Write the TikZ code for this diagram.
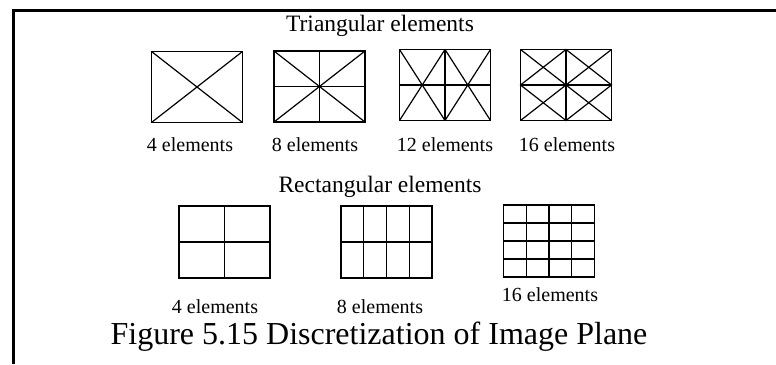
\documentclass[tikz,border=0pt]{standalone}
\usepackage{fontspec}
\setmainfont{Liberation Serif}
\usetikzlibrary{calc}
\tikzset{
    meshbox/.style={draw, rectangle, line width=1.8pt, outer sep=0pt, inner sep=0pt, minimum width=91pt, minimum height=71pt},
    meshline/.style={line width=1.2pt},
    countlabel/.style={anchor=base, inner sep=0pt, font=\fontsize{20}{24}\selectfont},
    rowtitle/.style={anchor=base, inner sep=0pt, font=\fontsize{23.5}{28}\selectfont},
    figcaption/.style={anchor=base, inner sep=0pt, font=\fontsize{32}{38}\selectfont},
}

\begin{document}
\begin{tikzpicture}[x=1pt, y=-1pt]
    \useasboundingbox (0,0) rectangle (776,364);
    % frame
    \draw[line width=3pt] (776,10) -- (13,10) -- (13,364);

    % triangular elements
    \node[rowtitle] (tritle) at (380,31) {Triangular elements};
    \node[meshbox] (t1) at (197,87) {};
    \node[meshbox] (t2) at (319.5,86.5) {};
    \node[meshbox] (t3) at (445,85) {};
    \node[meshbox] (t4) at (566,85) {};

    \draw[meshline] (t1.north west) -- (t1.south east);
    \draw[meshline] (t1.south west) -- (t1.north east);

    \draw[meshline] (t2.north west) -- (t2.south east);
    \draw[meshline] (t2.south west) -- (t2.north east);
    \draw[meshline] (t2.west) -- (t2.east);
    \draw[meshline] (t2.north) -- (t2.south);

    \draw[meshline] (t3.west) -- (t3.east);
    \draw[meshline] (t3.north) -- (t3.south);
    \draw[meshline] (t3.north west) -- (t3.south);
    \draw[meshline] (t3.north) -- (t3.south west);
    \draw[meshline] (t3.north) -- (t3.south east);
    \draw[meshline] (t3.north east) -- (t3.south);

    \draw[meshline] (t4.west) -- (t4.east);
    \draw[meshline] (t4.north) -- (t4.south);
    \draw[meshline] (t4.north west) -- (t4.south east);
    \draw[meshline] (t4.south west) -- (t4.north east);
    \draw[meshline] (t4.west) -- (t4.north) -- (t4.east) -- (t4.south) -- cycle;

    \node[countlabel] (lt1) at (190,151) {4 elements};
    \node[countlabel] (lt2) at (315,151) {8 elements};
    \node[countlabel] (lt3) at (445,151) {12 elements};
    \node[countlabel] (lt4) at (567,151) {16 elements};

    % rectangular elements
    \node[rowtitle] (rectitle) at (380,192) {Rectangular elements};
    \node[meshbox, minimum height=72pt] (r1) at (224.5,242) {};
    \node[meshbox, minimum height=72pt] (r2) at (386.5,242) {};
    \node[meshbox, minimum height=72pt] (r3) at (549,241) {};

    \draw[meshline] (r1.west) -- (r1.east);
    \draw[meshline] (r1.north) -- (r1.south);

    \draw[meshline] (r2.west) -- (r2.east);
    \foreach \f in {0.25,0.5,0.75}
        \draw[meshline] ($(r2.north west)!\f!(r2.north east)$) -- ($(r2.south west)!\f!(r2.south east)$);

    \foreach \f in {0.25,0.5,0.75} {
        \draw[meshline] ($(r3.north west)!\f!(r3.north east)$) -- ($(r3.south west)!\f!(r3.south east)$);
        \draw[meshline] ($(r3.north west)!\f!(r3.south west)$) -- ($(r3.north east)!\f!(r3.south east)$);
    }

    \node[countlabel] (lr1) at (215,313) {4 elements};
    \node[countlabel] (lr2) at (380,313) {8 elements};
    \node[countlabel] (lr3) at (550,301) {16 elements};

    % caption
    \node[figcaption] (caption) at (379,344) {Figure 5.15 Discretization of Image Plane};
\end{tikzpicture}
\end{document}
